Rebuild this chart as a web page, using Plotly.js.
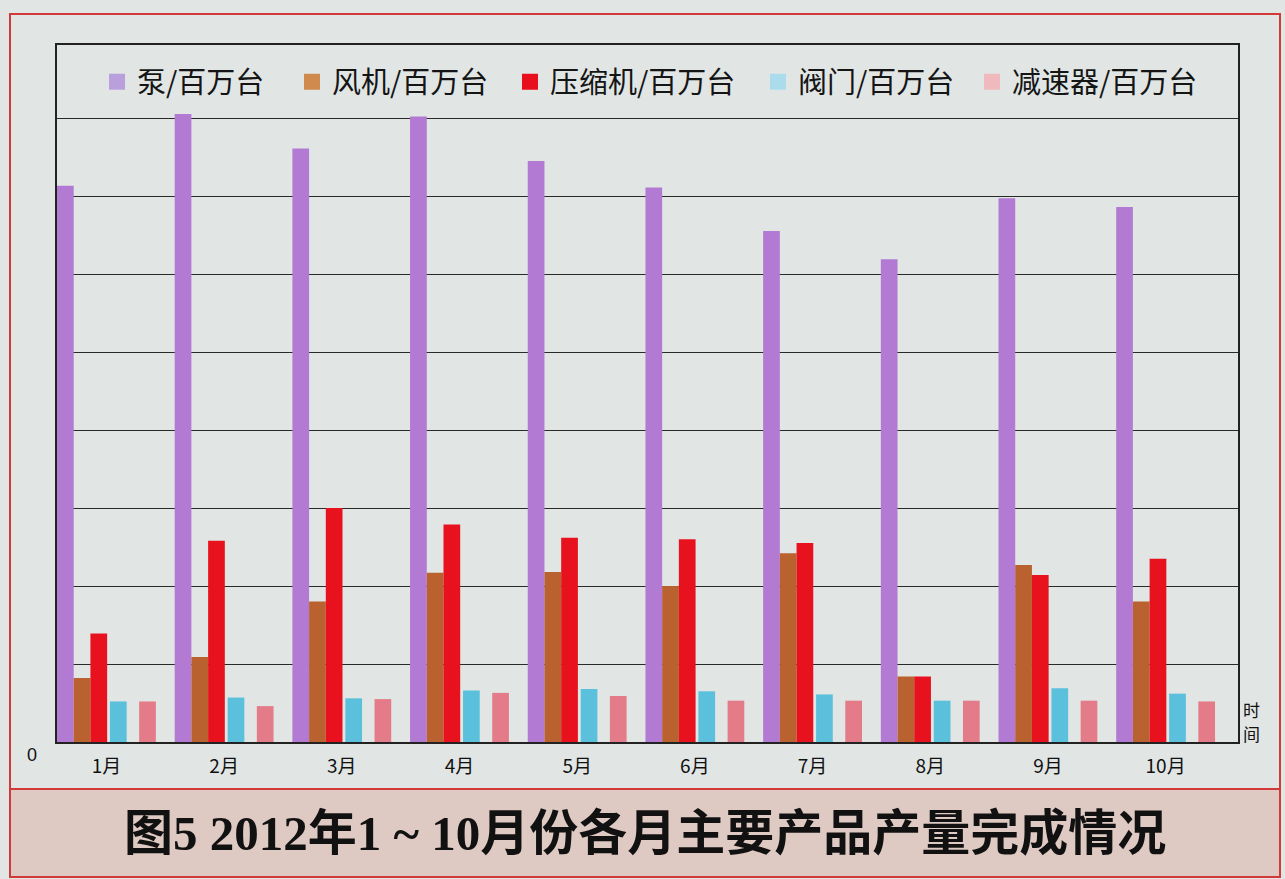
<!DOCTYPE html>
<html>
<head>
<meta charset="utf-8">
<script src="https://cdn.plot.ly/plotly-3.0.1.min.js"></script>
<style>
html,body{margin:0;padding:0;background:#e1e6e5;}
#chart{width:1285px;height:879px;}
</style>
</head>
<body>
<div id="chart"></div>
<script>
// ---- data (unit: 百万台) ----
const months = ["1月","2月","3月","4月","5月","6月","7月","8月","9月","10月"];
const seriesNames = ["泵/百万台","风机/百万台","压缩机/百万台","阀门/百万台","减速器/百万台"];
const pump       = [7.13, 8.05, 7.61, 8.02, 7.45, 7.11, 6.55, 6.19, 6.97, 6.86];
const fan        = [0.82, 1.09, 1.80, 2.17, 2.18, 2.00, 2.42, 0.84, 2.27, 1.80];
const compressor = [1.39, 2.58, 3.00, 2.79, 2.62, 2.60, 2.55, 0.84, 2.14, 2.35];
const valve      = [0.52, 0.57, 0.56, 0.66, 0.68, 0.65, 0.61, 0.53, 0.69, 0.62];
const reducer    = [0.52, 0.46, 0.55, 0.63, 0.59, 0.53, 0.53, 0.53, 0.53, 0.52];
const captionText = "图5 2012年1 ~ 10月份各月主要产品产量完成情况";
const timeChars = ["时", "间"];

// ---- styling ----
const colors       = ["#b27ad2", "#b9612f", "#e8121e", "#5bc0dc", "#e37c88"];
const legendColors = ["#b9a0dc", "#d08a4e", "#e8101c", "#abdcec", "#f0b9bd"];
const offsets = [-0.42, -0.278, -0.136, 0.03, 0.278];
const barW = 0.142;
const allValues = [pump, fan, compressor, valve, reducer];

// plot area in pixels: x 57..1238, y 45..742
const L = 57, R = 1238, T = 45, B = 742;
const px = v => (v - L) / (R - L);
const py = v => (B - v) / (B - T);

const legendKeys = ["legend", "legend2", "legend3", "legend4", "legend5"];
const legendLeftPx = [97, 292, 510, 758, 972];

const barTraces = allValues.map((vals, i) => ({
  type: "bar",
  name: seriesNames[i],
  x: months,
  y: vals,
  offset: offsets[i],
  width: barW,
  legendgroup: "g" + i,
  showlegend: false,
  marker: {color: colors[i], line: {width: 0}},
  hoverinfo: "x+y+name"
}));

// legend-only entries (larger square swatches like the reference)
const legendTraces = seriesNames.map((name, i) => ({
  type: "scatter",
  mode: "markers",
  name: name,
  x: [null], y: [null],
  legendgroup: "g" + i,
  legend: legendKeys[i],
  showlegend: true,
  hoverinfo: "skip",
  marker: {symbol: "square", size: 16, color: legendColors[i]}
}));

const layout = {
  width: 1285, height: 879,
  margin: {l: L, r: 1285 - R, t: T, b: 879 - B, pad: 0},
  paper_bgcolor: "#e1e6e5",
  plot_bgcolor: "#e1e6e5",
  font: {family: "Noto Sans CJK SC, Liberation Sans, sans-serif", color: "#111"},
  barmode: "group",
  showlegend: true,
  xaxis: {
    type: "category",
    range: [-0.42, 9.615],
    showgrid: false,
    showline: true, mirror: true, linecolor: "#222", linewidth: 1.5,
    ticks: "",
    ticklabelstandoff: 6,
    tickfont: {size: 19, color: "#111", family: "Noto Sans CJK SC, sans-serif"},
    fixedrange: true,
    zeroline: false
  },
  yaxis: {
    range: [0, (B - T) / 78],
    dtick: 1, tick0: 0,
    showgrid: true, gridcolor: "#2a2a2a", gridwidth: 1.3,
    showline: true, mirror: true, linecolor: "#222", linewidth: 1.5,
    showticklabels: false,
    ticks: "",
    zeroline: false,
    fixedrange: true
  },
  shapes: [
    {type: "rect", xref: "paper", yref: "paper",
     x0: px(10), x1: px(1280), y0: py(789), y1: py(14),
     line: {color: "#d23a3a", width: 2}, fillcolor: "rgba(0,0,0,0)", layer: "below"},
    {type: "rect", xref: "paper", yref: "paper",
     x0: px(10), x1: px(1280), y0: py(877), y1: py(789),
     line: {color: "#d23a3a", width: 2}, fillcolor: "#dfcac3", layer: "below"}
  ],
  annotations: [
    {text: captionText, xref: "paper", yref: "paper",
     x: px(645), y: py(833), xanchor: "center", yanchor: "middle",
     showarrow: false,
     font: {size: 49, color: "#111", family: "Liberation Serif, Noto Sans CJK SC, serif", weight: "bold"}},
    {text: "0", xref: "paper", yref: "paper",
     x: px(32), y: py(755), xanchor: "center", yanchor: "middle",
     showarrow: false, font: {size: 18, color: "#111", family: "Liberation Sans, sans-serif"}},
    {text: timeChars[0], xref: "paper", yref: "paper",
     x: px(1251), y: py(709), xanchor: "center", yanchor: "middle",
     showarrow: false, borderpad: 0,
     font: {size: 17, color: "#111", family: "Noto Sans CJK SC, sans-serif"}},
    {text: timeChars[1], xref: "paper", yref: "paper",
     x: px(1251), y: py(733), xanchor: "center", yanchor: "middle",
     showarrow: false, borderpad: 0,
     font: {size: 17, color: "#111", family: "Noto Sans CJK SC, sans-serif"}}
  ]
};

legendKeys.forEach((k, i) => {
  layout[k] = {
    orientation: "h",
    x: px(legendLeftPx[i]), xanchor: "left",
    y: py(82), yanchor: "middle",
    bgcolor: "rgba(0,0,0,0)",
    borderwidth: 0,
    font: {size: 29, color: "#151515", family: "Noto Sans CJK SC, sans-serif"},
    itemclick: false, itemdoubleclick: false
  };
});

Plotly.newPlot("chart", barTraces.concat(legendTraces), layout, {displayModeBar: false});
</script>
</body>
</html>
